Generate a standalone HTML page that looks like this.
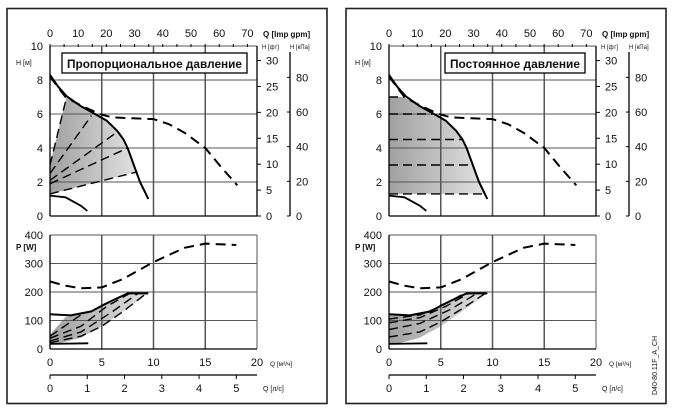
<!DOCTYPE html>
<html><head><meta charset="utf-8"><style>
html,body{margin:0;padding:0;background:#fff;width:688px;height:411px;overflow:hidden}
svg text{font-family:"Liberation Sans",sans-serif;fill:#111}
</style></head><body>
<svg id="s" width="688" height="411" xmlns="http://www.w3.org/2000/svg">
<defs>
<linearGradient id="g" x1="0" x2="1" y1="0" y2="0"><stop offset="0" stop-color="#a0a0a0"/><stop offset="1" stop-color="#e2e2e2"/></linearGradient>
</defs>
</svg>
<script>
var s=document.getElementById('s');var out='';
function X(q){return 50+q*10.35}
function YH(h){return 216-h*17}
function YP(p){return 349-p*0.285}
function pts(a,f){return a.map(function(p){return X(p[0]).toFixed(1)+','+f(p[1]).toFixed(1)}).join(' ')}
function pl(a,f,dash,w){return '<polyline points="'+pts(a,f)+'" fill="none" stroke="#000" stroke-width="'+(w||2)+'" '+(dash?'stroke-dasharray="'+dash+'"':'')+' stroke-linejoin="round"/>'}
function pg(a,f){return '<polygon points="'+pts(a,f)+'" fill="url(#g)"/>'}
function t(x,y,str,sz,anc,bold,tl){return '<text x="'+x+'" y="'+y+'" font-size="'+sz+'" text-anchor="'+(anc||'middle')+'"'+(bold?' font-weight="bold"':'')+(tl?' textLength="'+tl+'" lengthAdjust="spacingAndGlyphs"':'')+'>'+str+'</text>'}
var curve=[[0,8.3],[0.8,7.6],[1.6,7.05],[3,6.45],[4.35,6],[5.5,5.6],[6.5,5],[7.1,4.5],[7.5,4],[8.1,3],[8.7,2],[9.1,1.5],[9.5,1]];
var dmax=[[0,8.2],[1.5,7],[3,6.5],[4.8,6],[6,5.8],[8,5.75],[10,5.7],[11.5,5.4],[13,4.9],[15,4],[16.5,2.9],[18.1,1.8]];
var mn=[[0,1.2],[1.5,1.1],[3,0.6],[3.6,0.3]];
var pmax=[[0,237],[1.5,222],[3,213],[5,216],[7,245],[10,305],[13,355],[15,370],[18,365]];
var psol=[[0,122],[2,118],[4,132],[5,152],[6,170],[7.5,195],[9.5,195]];
var shadeCurveUp=[[9.5,1],[9.1,1.5],[8.7,2],[8.1,3],[7.5,4],[7.1,4.5],[6.5,5],[5.5,5.6],[4.35,6],[3,6.45],[1.6,7.05]];
function panel(ox,oy,title,mode){
 var o='<g transform="translate('+ox+','+oy+')">';
 o+='<rect x="7" y="8.5" width="320" height="395" fill="none" stroke="#222" stroke-width="1.6"/>';
 if(mode==0){
  o+=pg([[0,1.3],[8.45,2.6],[8.1,3],[7.5,4],[7.1,4.5],[6.5,5],[5.5,5.6],[4.35,6],[3,6.45],[1.6,7.05],[0,3]],YH);
 }else{
  o+=pg([[0,1.3],[9.35,1.3],[9.1,1.5],[8.7,2],[8.1,3],[7.5,4],[7.1,4.5],[6.5,5],[5.5,5.6],[4.35,6],[3,6.45],[1.4,7],[0,7]],YH);
 }
 if(mode==0){
  o+=pg([[0,18],[0,50],[1.5,112],[4,132],[5,152],[6,170],[7.5,195],[9.5,195],[7,130],[5,80],[3,40],[1,20]],YP);
 }else{
  o+=pg([[0,18],[0,118],[2,118],[4,132],[5,152],[6,170],[7.5,195],[9.5,195],[7,130],[5,80],[3,40],[1,20]],YP);
 }
 for(var q=0;q<=20;q+=5){o+='<line x1="'+X(q)+'" y1="46" x2="'+X(q)+'" y2="216" stroke="#555" stroke-width="'+(q==0||q==20?1:1.5)+'"/>';o+='<line x1="'+X(q)+'" y1="235" x2="'+X(q)+'" y2="349" stroke="#555" stroke-width="'+(q==0||q==20?1:1.5)+'"/>';}
 for(var h=0;h<=10;h+=2){o+='<line x1="50" y1="'+YH(h)+'" x2="257" y2="'+YH(h)+'" stroke="#555" stroke-width="1"/>';o+=t(43,YH(h)+4,h,11,'end');}
 for(var p=0;p<=400;p+=100){o+='<line x1="50" y1="'+YP(p)+'" x2="257" y2="'+YP(p)+'" stroke="#555" stroke-width="1"/>';o+=t(43,YP(p)+4,p,11,'end');}
 o+='<line x1="50" y1="46" x2="50" y2="216" stroke="#000" stroke-width="1.3"/><line x1="50" y1="216" x2="257" y2="216" stroke="#000" stroke-width="1.3"/>';
 o+='<line x1="50" y1="235" x2="50" y2="349" stroke="#000" stroke-width="1.3"/><line x1="50" y1="349" x2="257" y2="349" stroke="#000" stroke-width="1.3"/>';
 for(var g=0;g<=70;g+=10){o+=t(50+g*2.82,37,g,11);}
 for(var g=0;g<=70;g+=5){o+='<line x1="'+(50+g*2.82)+'" y1="44" x2="'+(50+g*2.82)+'" y2="47" stroke="#000"/>';}
 o+=t(263,37,'Q [Imp gpm]',8,'start',true);
 o+=t(262,49,'H [фт]',6,'start');o+=t(290,49,'H [кПа]',6,'start');
 o+=t(16,65,'H [м]',7,'start');o+=t(16,250,'P [W]',8,'start',true);
 for(var f=0;f<=30;f+=5){var y=216-f*0.3048*17;o+='<line x1="257" y1="'+y+'" x2="261" y2="'+y+'" stroke="#000"/>';o+=t(266,y+4,f,11,'start');}
 o+='<line x1="257" y1="46" x2="257" y2="216" stroke="#000" stroke-width="1.3"/>';
 o+='<line x1="290" y1="52" x2="290" y2="216" stroke="#000" stroke-width="1.3"/>';
 for(var k=0;k<=80;k+=20){var y=216-k/9.81*17;o+='<line x1="287" y1="'+y+'" x2="290" y2="'+y+'" stroke="#000"/>';o+=t(296,y+4,k,11,'start');}
 for(var q=0;q<=20;q+=5)o+=t(X(q),366,q,11);
 o+=t(270,366,'Q [м³/ч]',6.5,'start');
 o+='<line x1="50" y1="375" x2="257" y2="375" stroke="#000" stroke-width="1.3"/>';
 for(var l=0;l<=5;l++){var x=50+l*3.6*10.35;o+='<line x1="'+x+'" y1="375" x2="'+x+'" y2="379" stroke="#000"/>';o+=t(x,392,l,11);}
 o+=t(263,391,'Q [л/с]',7,'start');
 if(mode==0){o+='<rect x="62" y="53" width="185" height="20" fill="#fff" stroke="#000" stroke-width="1.3"/>'+t(154.5,68,title,12,'middle',true,175);}
 else{o+='<rect x="106" y="53" width="140" height="20" fill="#fff" stroke="#000" stroke-width="1.3"/>'+t(176,68,title,12,'middle',true,130);}
 if(mode==0){
  [[[0,3],[1.6,7]],[[0,2.5],[4,5.9]],[[0,2.1],[6.4,4.9]],[[0,1.9],[7.5,4]],[[0,1.3],[8.45,2.6]]].forEach(function(a){o+=pl(a,YH,'9,5',1.4)});
  [[[0,45],[3,120]],[[0,38],[3,80],[5.5,150],[7.7,195]],[[0,28],[3,60],[6,130],[8.5,195]],[[0,22],[3,45],[5,80],[7,130],[9.3,195]]].forEach(function(a){o+=pl(a,YP,'9,5',1.4)});
 }else{
  [[[0,7],[1.4,7]],[[0,6],[4.35,6]],[[0,4.5],[7.1,4.5]],[[0,3],[8.1,3]],[[0,1.3],[9.35,1.3]]].forEach(function(a){o+=pl(a,YH,'9,5',1.4)});
  [[[0,105],[3,120],[5,150],[7,190]],[[0,92],[3,110],[5.5,150],[7.7,195]],[[0,68],[3,90],[6,140],[8.5,195]],[[0,42],[3,60],[5,95],[7,140],[9.3,195]]].forEach(function(a){o+=pl(a,YP,'9,5',1.4)});
 }
 o+=pl(curve,YH,null,2)+pl(dmax,YH,'10,6',2)+pl(mn,YH,null,1.8);
 o+=pl(pmax,YP,'10,6',2)+pl(psol,YP,null,2)+pl([[0,18],[3.7,20]],YP,null,1.8);
 o+='</g>';return o;
}
out+=panel(0,0,'Пропорциональное давление',0);
out+=panel(339,0,'Постоянное давление',1);
out+='<text x="0" y="0" font-size="7" transform="translate(657,395) rotate(-90)">D40-80.11F_A_CH</text>';
s.insertAdjacentHTML('beforeend',out);
</script>
</body></html>
